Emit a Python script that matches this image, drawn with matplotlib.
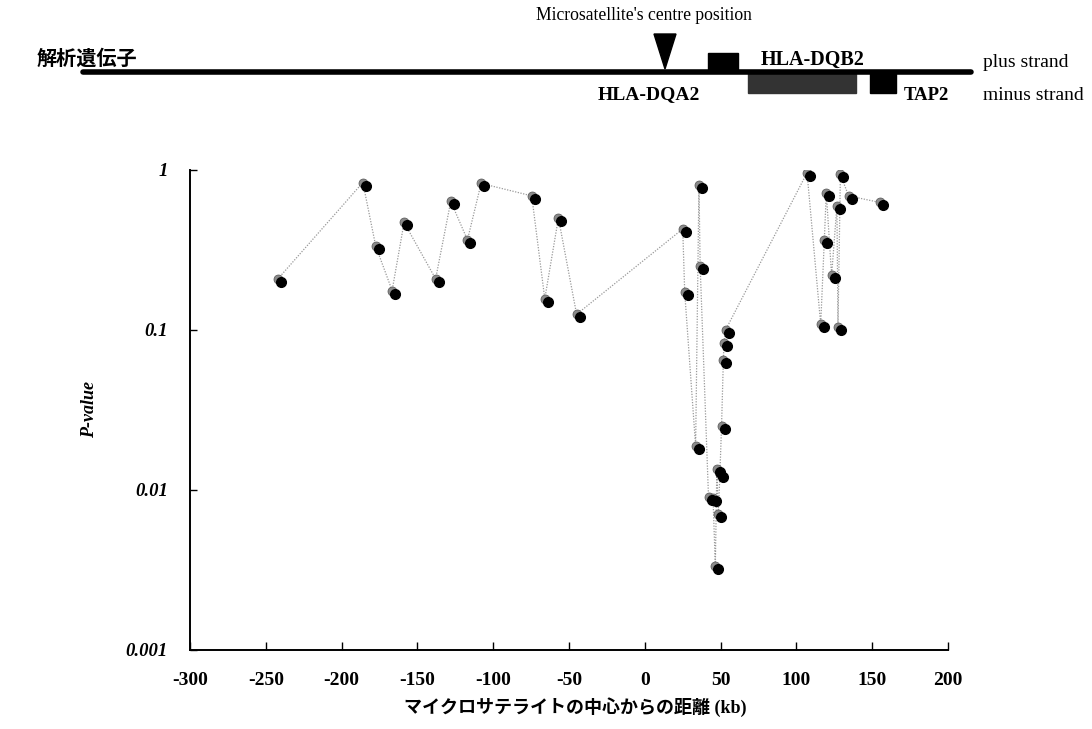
import matplotlib
matplotlib.use("Agg")
import matplotlib.pyplot as plt
import matplotlib.transforms as mtransforms
from matplotlib.patches import Rectangle, Polygon

# distance from microsatellite centre (kb) and association P-values, in plotting order
distance_kb = [-240, -184, -175.5, -164.7, -156.8, -136, -126, -115, -106, -72.6,
               -64, -55, -43, 27, 28.3, 35.5, 37.7, 38.5, 44, 47, 48.5, 49.5,
               50.5, 51.5, 52.6, 53.8, 54.2, 55.3, 109, 118, 120.4, 121.7,
               125.2, 128.7, 129.4, 131, 136.4, 157.2]
p_value = [0.20, 0.80, 0.32, 0.169, 0.45, 0.20, 0.61, 0.35, 0.79, 0.66,
           0.15, 0.48, 0.12, 0.41, 0.165, 0.018, 0.77, 0.24, 0.0087, 0.0085,
           0.0032, 0.013, 0.0068, 0.012, 0.024, 0.062, 0.079, 0.096, 0.92,
           0.104, 0.35, 0.69, 0.21, 0.57, 0.10, 0.90, 0.66, 0.60]

x_ticks = [-300, -250, -200, -150, -100, -50, 0, 50, 100, 150, 200]
y_ticks = [0.001, 0.01, 0.1, 1]
y_tick_labels = ["0.001", "0.01", "0.1", "1"]

# gene map above the plot (figure pixel units, y measured from the top)
map_line = (83, 971, 72)
plus_boxes = [(708, 738)]
minus_boxes = [(748, 856, "#333333"), (870, 896, "black")]
triangle_x = 665

serif = "Liberation Serif"
cjk = ["Noto Sans CJK JP", "DejaVu Sans"]

fig = plt.figure(figsize=(10.92, 7.29), dpi=100)

# ---- gene map -------------------------------------------------------------
mp = fig.add_axes([0, 0, 1, 1])
mp.set_xlim(0, 1092)
mp.set_ylim(729, 0)
mp.axis("off")
x0, x1, yl = map_line
mp.plot([x0, x1], [yl, yl], color="black", lw=4, solid_capstyle="round")
for a, b in plus_boxes:
    mp.add_patch(Rectangle((a, 53), b - a, yl - 53, color="black"))
for a, b, c in minus_boxes:
    mp.add_patch(Rectangle((a, yl), b - a, 93 - yl, color=c))
mp.add_patch(Polygon([[triangle_x - 11, 34], [triangle_x + 11, 34], [triangle_x, 69]],
                     closed=True, color="black"))
mp.text(644, 15, "Microsatellite's centre position", family=serif,
        fontsize=12.7, ha="center", va="center")
mp.text(37, 58, "解析遺伝子", family=cjk, fontsize=14.5, fontweight="bold",
        ha="left", va="center")
mp.text(813, 60, "HLA-DQB2", family=serif, fontsize=14.5, fontweight="bold",
        ha="center", va="center")
mp.text(649, 95, "HLA-DQA2", family=serif, fontsize=14, fontweight="bold",
        ha="center", va="center")
mp.text(926, 95, "TAP2", family=serif, fontsize=13.5, fontweight="bold",
        ha="center", va="center")
mp.text(983, 62, "plus strand", family=serif, fontsize=14, ha="left", va="center")
mp.text(983, 95, "minus strand", family=serif, fontsize=14, ha="left", va="center")

# ---- P-value plot -----------------------------------------------------------
ax = fig.add_axes([190 / 1092, 1 - 650 / 729, 758 / 1092, 480 / 729])
ax.set_yscale("log")
ax.set_xlim(-300, 200)
ax.set_ylim(0.001, 1)

shadow = mtransforms.offset_copy(ax.transData, fig=fig, x=-3, y=3, units="dots")
ax.plot(distance_kb, p_value, color="#999999", lw=0.9, ls=(0, (1, 1.2)),
        marker="o", ms=6.5, mfc="#8a8a8a", mec="#555555", mew=0.5,
        transform=shadow, zorder=2)
ax.plot(distance_kb, p_value, ls="none", marker="o", ms=7, mfc="black",
        mec="black", zorder=3)

for s in ["top", "right"]:
    ax.spines[s].set_visible(False)
for s in ["left", "bottom"]:
    ax.spines[s].set_linewidth(1.4)

ax.set_xticks(x_ticks)
ax.set_xticklabels([str(t) for t in x_ticks], family=serif, fontsize=14,
                   fontweight="bold")
ax.set_yticks(y_ticks)
ax.set_yticklabels(y_tick_labels, family=serif, fontsize=13.5,
                   fontweight="bold", style="italic")
ax.minorticks_off()
ax.tick_params(axis="x", direction="in", length=6, width=1, pad=16)
ax.tick_params(axis="y", direction="in", length=5, width=1, pad=16)

ax.set_ylabel("P-value", family=serif, fontsize=13, fontweight="bold",
              style="italic", labelpad=20)

# x label: Japanese in a gothic face, "(kb)" falls back to the serif face
fig.text(575 / 1092, 1 - 707 / 729, "マイクロサテライトの中心からの距離 (kb)",
         family=[serif, "Noto Sans CJK JP"], fontsize=13, fontweight="bold",
         ha="center", va="center")

fig.savefig("out.png", dpi=100)
